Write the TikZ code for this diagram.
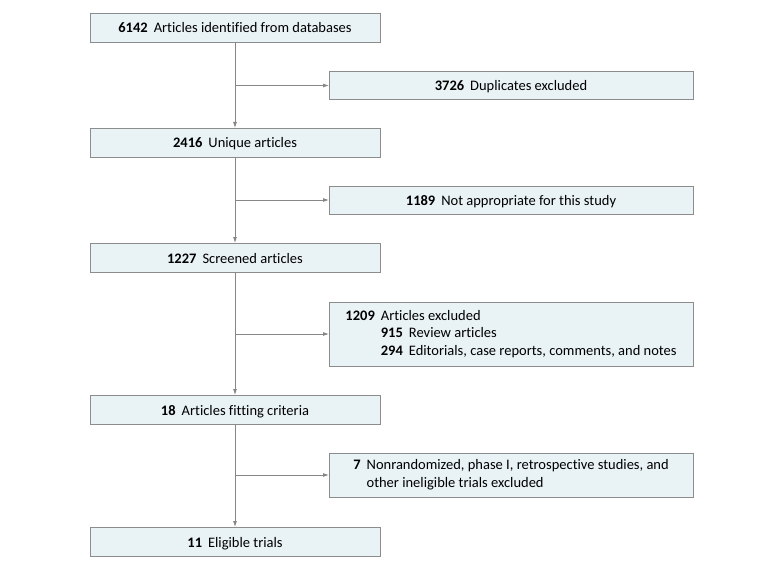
\documentclass[tikz,border=0pt]{standalone}
\usepackage{fontspec}
\setmainfont{Carlito}[Ligatures={NoCommon,NoRequired,NoContextual}]
\usetikzlibrary{positioning,arrows.meta}
\definecolor{boxfill}{RGB}{233,242,245}
\definecolor{boxline}{RGB}{140,140,140}
\definecolor{flowgray}{RGB}{135,135,135}

\begin{document}
\begin{tikzpicture}[x=1pt, y=-1pt, node distance=0pt, outer sep=0pt,
    font=\fontsize{14.5}{17.5}\selectfont,
    oneline/.style={text height=11pt, text depth=0pt},
    mainbox/.style={rectangle, draw=boxline, fill=boxfill, line width=0.8pt, minimum width=290pt, minimum height=29pt, inner sep=0pt, oneline},
    sidebox/.style={rectangle, draw=boxline, fill=boxfill, line width=0.8pt, minimum width=364pt, minimum height=28pt, inner sep=0pt},
    flow/.style={draw=flowgray, line width=0.8pt, -{Latex[length=6pt,width=4pt]}}]
    \useasboundingbox (0,0) rectangle (783,569);

    \node [mainbox] (ident) at (235,27.5) {\textbf{6142}\hspace{6pt}Articles identified from databases};
    \node [mainbox, below=86pt of ident] (unique) {\textbf{2416}\hspace{6pt}Unique articles};
    \node [mainbox, below=86pt of unique] (screened) {\textbf{1227}\hspace{6pt}Screened articles};
    \node [mainbox, below=123pt of screened] (fitting) {\textbf{18}\hspace{6pt}Articles fitting criteria};
    \node [mainbox, below=103pt of fitting] (eligible) {\textbf{11}\hspace{6pt}Eligible trials};

    \node [sidebox, oneline] (dupl) at (511,85.5) {\textbf{3726}\hspace{6pt}Duplicates excluded};
    \node [sidebox, oneline] (notapp) at (511,200) {\textbf{1189}\hspace{6pt}Not appropriate for this study};
    \node [sidebox, minimum height=64pt] (excl) at (511,334) {%
        \begin{tabular}{@{}r@{\hspace{6pt}}r@{\hspace{6pt}}l@{}}
            \textbf{1209} & \multicolumn{2}{@{}l@{}}{Articles excluded}\\
             & \textbf{915} & Review articles\\
             & \textbf{294} & Editorials, case reports, comments, and notes
        \end{tabular}};
    \node [sidebox, minimum height=44pt] (inelig) at (511,475) {%
        \begin{tabular}{@{}r@{\hspace{6pt}}l@{}}
            \textbf{7} & Nonrandomized, phase I, retrospective studies, and\\
             & other ineligible trials excluded
        \end{tabular}};

    \draw [flow] (ident) -- (unique);
    \draw [flow] (unique) -- (screened);
    \draw [flow] (screened) -- (fitting);
    \draw [flow] (fitting) -- (eligible);

    \draw [flow] (ident.south |- dupl) -- (dupl);
    \draw [flow] (unique.south |- notapp) -- (notapp);
    \draw [flow] (screened.south |- excl) -- (excl);
    \draw [flow] (fitting.south |- inelig) -- (inelig);
\end{tikzpicture}
\end{document}
